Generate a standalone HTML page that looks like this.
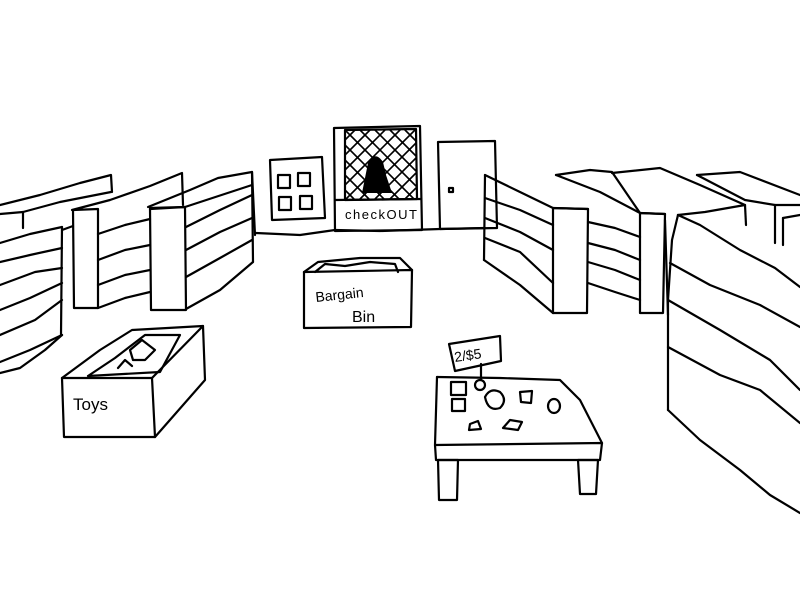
<!DOCTYPE html>
<html><head><style>
html,body{margin:0;padding:0;background:#fff;width:800px;height:600px;overflow:hidden}
svg{display:block}
text{font-family:"Liberation Sans",sans-serif;fill:#000}
</style></head><body>
<svg width="800" height="600" viewBox="0 0 800 600" xmlns="http://www.w3.org/2000/svg">
<g fill="none" stroke="#000" stroke-width="2.2" stroke-linejoin="round" stroke-linecap="round">
<polyline points="256,233 300,235 335,230 380,231 440,229 485,228"/>
<line x1="252" y1="172" x2="255" y2="235"/>
<polygon points="270,160 322,157 325,218 272,220"/>
<rect x="278" y="175" width="12" height="13"/>
<rect x="298" y="173" width="12" height="13"/>
<rect x="279" y="197" width="12" height="13"/>
<rect x="300" y="196" width="12" height="13"/>
<polygon points="334,128 420,126 422,230 335,231"/>
<polygon points="345,130 416,129 417,199 345,200"/>
<line x1="335" y1="200" x2="421" y2="199"/>
<g stroke-width="1.6">
<line x1="345" y1="140" x2="355" y2="130"/><line x1="345" y1="155" x2="370" y2="130"/>
<line x1="345" y1="170" x2="385" y2="130"/><line x1="345" y1="185" x2="400" y2="130"/>
<line x1="346" y1="199" x2="415" y2="130"/><line x1="360" y1="199" x2="416" y2="143"/>
<line x1="375" y1="199" x2="416" y2="158"/><line x1="390" y1="199" x2="416" y2="173"/>
<line x1="405" y1="199" x2="416" y2="188"/>
<line x1="360" y1="130" x2="416" y2="186"/><line x1="375" y1="130" x2="416" y2="171"/>
<line x1="390" y1="130" x2="416" y2="156"/><line x1="405" y1="130" x2="416" y2="141"/>
<line x1="346" y1="131" x2="414" y2="199"/><line x1="345" y1="145" x2="399" y2="199"/>
<line x1="345" y1="160" x2="384" y2="199"/><line x1="345" y1="175" x2="369" y2="199"/>
<line x1="345" y1="190" x2="354" y2="199"/>
</g>
<polygon points="438,142 495,141 497,228 440,229"/>
<rect x="449" y="188" width="4" height="4"/>
<!-- Left unit A -->
<polyline points="0,205 40,195 80,183 111,175 112,192"/>
<polyline points="0,214 23,212 60,202 111,192"/>
<line x1="23" y1="212" x2="23" y2="228"/>
<line x1="62" y1="227" x2="61" y2="335"/>
<polyline points="0,243 30,234 62,227"/>
<polyline points="0,262 30,255 62,248"/>
<polyline points="0,285 35,272 62,268"/>
<polyline points="0,310 30,298 62,283"/>
<polyline points="0,335 35,320 62,300"/>
<polyline points="0,362 30,350 62,335"/>
<polyline points="0,373 20,368 45,350 62,335"/>
<!-- Unit B -->
<polyline points="72,210 110,200 150,186 182,173 183,205"/>
<polygon points="73,210 98,209 98,308 74,308"/>
<polyline points="98,234 125,225 150,219"/>
<polyline points="98,260 125,250 150,245"/>
<polyline points="98,285 125,275 150,270"/>
<polyline points="98,308 125,298 150,292"/>
<line x1="62" y1="230" x2="73" y2="226"/>
<!-- Unit C -->
<polyline points="148,207 190,190 218,178 252,172"/>
<polyline points="150,209 185,207 252,185"/>
<polygon points="150,208 185,207 186,310 151,310"/>
<line x1="252" y1="172" x2="253" y2="262"/>
<polyline points="186,227 220,210 252,195"/>
<polyline points="186,250 220,232 252,218"/>
<polyline points="186,277 220,258 252,240"/>
<polyline points="186,309 220,290 253,262"/>
<!-- Right unit D -->
<polyline points="485,175 520,192 553,208 588,209"/>
<line x1="485" y1="175" x2="484" y2="260"/>
<polygon points="553,208 588,209 587,313 553,313"/>
<polyline points="485,198 520,210 553,225"/>
<polyline points="485,218 520,232 553,250"/>
<polyline points="485,238 520,252 553,283"/>
<polyline points="484,260 520,285 553,313"/>
<!-- Unit E -->
<polyline points="556,175 590,170 612,172 640,213 665,214"/>
<polyline points="556,175 600,192 640,213"/>
<polygon points="640,213 665,214 663,313 640,313"/>
<polyline points="588,222 615,228 640,237"/>
<polyline points="588,243 615,250 640,260"/>
<polyline points="588,262 615,270 640,280"/>
<polyline points="588,283 615,292 640,300"/>
<line x1="665" y1="220" x2="668" y2="315"/>
<!-- Unit F -->
<polyline points="612,173 660,168 700,185 745,205 705,212 678,215"/>
<line x1="745" y1="205" x2="746" y2="225"/>
<!-- Unit H -->
<polyline points="697,175 740,172 800,195"/>
<polyline points="697,175 745,200 775,205 800,205"/>
<line x1="775" y1="205" x2="775" y2="243"/>
<polyline points="783,218 800,215"/>
<line x1="783" y1="218" x2="783" y2="245"/>
<!-- Unit G -->
<polyline points="678,215 700,225 740,250 775,268 800,287"/>
<polyline points="678,215 672,240 668,300 668,410"/>
<polyline points="670,263 710,285 760,305 800,327"/>
<polyline points="668,300 720,330 770,360 800,390"/>
<polyline points="668,347 720,375 760,390 800,423"/>
<polyline points="668,410 700,440 740,470 770,495 800,513"/>
<!-- Bargain bin -->
<polygon points="304,272 412,270 411,327 304,328"/>
<polyline points="304,272 318,262 360,258 400,258 412,270"/>
<polyline points="315,272 325,264 345,266 370,262 395,264 398,272"/>
<!-- Toys -->
<polygon points="62,378 152,378 155,437 64,437"/>
<polyline points="62,378 100,350 132,330 203,326 152,378"/>
<polyline points="203,326 205,380 155,437"/>
<polyline points="88,376 115,358 145,335 180,335 160,372 88,376"/>
<polyline points="130,350 142,340 155,350 145,360 133,360 130,350"/>
<polyline points="118,368 125,360 132,366"/>
<!-- Table -->
<polyline points="437,377 500,378 560,380 580,400 602,443"/>
<polyline points="437,377 435,445 602,443 600,460 436,460 435,445"/>
<polygon points="438,460 458,460 457,500 439,500"/>
<polygon points="578,460 598,460 596,494 580,494"/>
<rect x="451" y="382" width="15" height="13"/>
<rect x="452" y="399" width="13" height="12"/>
<path d="M485,397 Q490,387 500,392 Q508,400 500,408 Q488,412 485,397Z"/>
<path d="M520,392 L532,391 L531,403 L521,402Z"/>
<ellipse cx="554" cy="406" rx="6" ry="7"/>
<path d="M470,424 L478,421 L481,429 L469,430Z"/>
<path d="M503,428 L510,420 L522,422 L518,430 Z"/>
<polygon points="449,344 500,336 501,361 455,371"/>
<line x1="481" y1="364" x2="481" y2="380"/>
<circle cx="480" cy="385" r="5"/>
</g>
<path d="M368,163 Q375,150 383,162 L386,175 L392,193 L362,193 Z" fill="#000"/>
<text x="345" y="219" font-size="13" textLength="72">checkOUT</text>
<text x="316" y="302" font-size="14" transform="rotate(-6 316 302)">Bargain</text>
<text x="352" y="322" font-size="16">Bin</text>
<text x="73" y="410" font-size="17">Toys</text>
<text x="455" y="362" font-size="14" transform="rotate(-8 455 362)">2/$5</text>
</svg>
</body></html>
